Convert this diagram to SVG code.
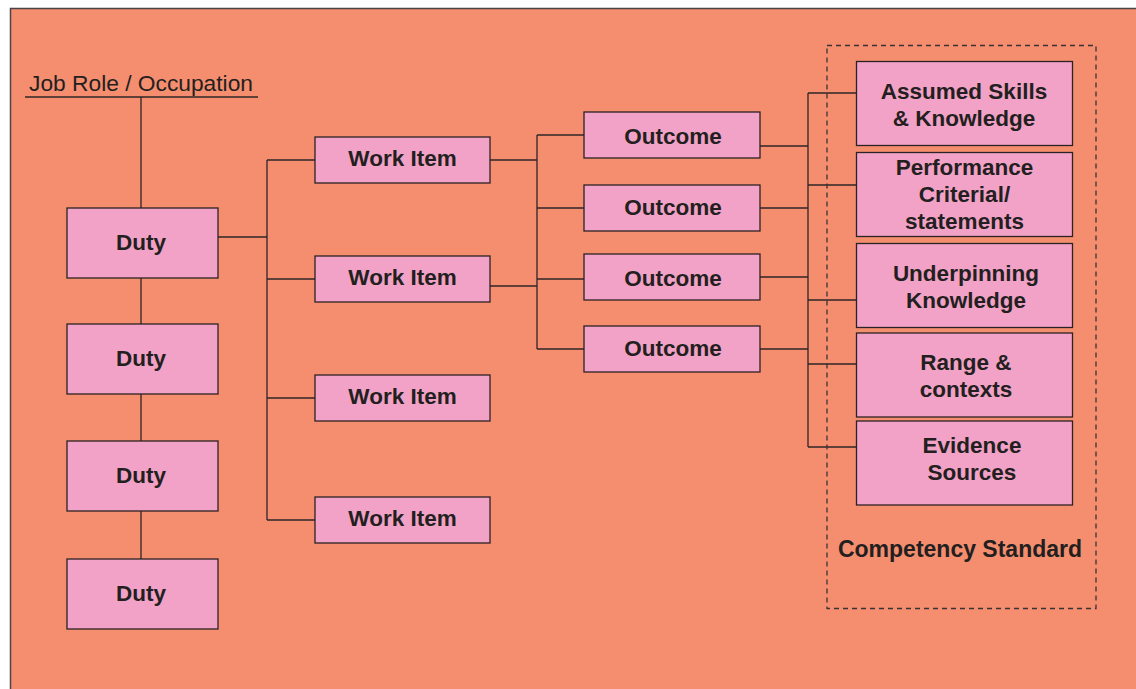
<svg xmlns="http://www.w3.org/2000/svg" width="1136" height="689" viewBox="0 0 1136 689">
  <style>
    .box { fill: #F2A2C6; stroke: #2a2224; stroke-width: 1.3; }
    .lbl { font-family: "Liberation Sans", Arial, sans-serif; font-weight: bold; font-size: 22.5px; fill: #231f20; text-anchor: middle; }
    .conn { fill: none; stroke: #2e2426; stroke-width: 1.3; }
  </style>
  <rect x="0" y="0" width="1136" height="689" fill="#ffffff"/>
  <rect x="10.5" y="8.5" width="1140" height="700" fill="#F58E6F" stroke="#4a4446" stroke-width="1.5"/>

  <!-- Job role heading -->
  <g id="job-role">
    <text x="29" y="91" font-family="Liberation Sans, Arial, sans-serif" font-size="21.5" fill="#231f20" textLength="224" lengthAdjust="spacingAndGlyphs">Job Role / Occupation</text>
    <line x1="25" y1="97" x2="258" y2="97" stroke="#2e2426" stroke-width="1.3"/>
  </g>

  <!-- connectors -->
  <g id="connectors" class="conn">
    <line x1="141" y1="97" x2="141" y2="559"/>
    <line x1="218" y1="237" x2="267" y2="237"/>
    <line x1="267" y1="160" x2="267" y2="520"/>
    <line x1="267" y1="160" x2="315" y2="160"/>
    <line x1="267" y1="279" x2="315" y2="279"/>
    <line x1="267" y1="398" x2="315" y2="398"/>
    <line x1="267" y1="520" x2="315" y2="520"/>
    <line x1="490" y1="160" x2="537" y2="160"/>
    <line x1="490" y1="286" x2="537" y2="286"/>
    <line x1="537" y1="135" x2="537" y2="349"/>
    <line x1="537" y1="135" x2="584" y2="135"/>
    <line x1="537" y1="208" x2="584" y2="208"/>
    <line x1="537" y1="279" x2="584" y2="279"/>
    <line x1="537" y1="349" x2="584" y2="349"/>
    <line x1="760" y1="146" x2="808" y2="146"/>
    <line x1="760" y1="208" x2="808" y2="208"/>
    <line x1="760" y1="277" x2="808" y2="277"/>
    <line x1="760" y1="349" x2="808" y2="349"/>
    <line x1="808" y1="93" x2="808" y2="447"/>
    <line x1="808" y1="93" x2="856" y2="93"/>
    <line x1="808" y1="185" x2="856" y2="185"/>
    <line x1="808" y1="300" x2="856" y2="300"/>
    <line x1="808" y1="364" x2="856" y2="364"/>
    <line x1="808" y1="447" x2="856" y2="447"/>
  </g>

  <!-- Competency standard frame -->
  <g id="competency-standard">
    <rect x="827" y="45.5" width="269" height="563" fill="none" stroke="#3a3234" stroke-width="1.3" stroke-dasharray="5 4"/>
    <text class="lbl" x="960" y="557" style="font-size:23px">Competency Standard</text>
  </g>

  <!-- Duties -->
  <g id="duty-1"><rect class="box" x="67" y="208" width="151" height="70"/><text class="lbl" x="141" y="249.5">Duty</text></g>
  <g id="duty-2"><rect class="box" x="67" y="324" width="151" height="70"/><text class="lbl" x="141" y="365.5">Duty</text></g>
  <g id="duty-3"><rect class="box" x="67" y="441" width="151" height="70"/><text class="lbl" x="141" y="482.5">Duty</text></g>
  <g id="duty-4"><rect class="box" x="67" y="559" width="151" height="70"/><text class="lbl" x="141" y="600.5">Duty</text></g>

  <!-- Work items -->
  <g id="work-item-1"><rect class="box" x="315" y="137" width="175" height="46"/><text class="lbl" x="402.5" y="165.5">Work Item</text></g>
  <g id="work-item-2"><rect class="box" x="315" y="256" width="175" height="46"/><text class="lbl" x="402.5" y="284.5">Work Item</text></g>
  <g id="work-item-3"><rect class="box" x="315" y="375" width="175" height="46"/><text class="lbl" x="402.5" y="403.5">Work Item</text></g>
  <g id="work-item-4"><rect class="box" x="315" y="497" width="175" height="46"/><text class="lbl" x="402.5" y="525.5">Work Item</text></g>

  <!-- Outcomes -->
  <g id="outcome-1"><rect class="box" x="584" y="112" width="176" height="46"/><text class="lbl" x="673" y="144">Outcome</text></g>
  <g id="outcome-2"><rect class="box" x="584" y="185" width="176" height="46"/><text class="lbl" x="673" y="215">Outcome</text></g>
  <g id="outcome-3"><rect class="box" x="584" y="254" width="176" height="46"/><text class="lbl" x="673" y="286">Outcome</text></g>
  <g id="outcome-4"><rect class="box" x="584" y="326" width="176" height="46"/><text class="lbl" x="673" y="356">Outcome</text></g>

  <!-- Competency standard elements -->
  <g id="assumed-skills"><rect class="box" x="856.5" y="61.5" width="216" height="84"/>
    <text class="lbl" x="964" y="99">Assumed Skills</text><text class="lbl" x="964" y="126">&amp; Knowledge</text></g>
  <g id="performance-criteria"><rect class="box" x="856.5" y="152.5" width="216" height="84"/>
    <text class="lbl" x="964.5" y="174.5">Performance</text><text class="lbl" x="964.5" y="201.5">Criterial/</text><text class="lbl" x="964.5" y="228.5">statements</text></g>
  <g id="underpinning-knowledge"><rect class="box" x="856.5" y="243.5" width="216" height="84"/>
    <text class="lbl" x="966" y="281">Underpinning</text><text class="lbl" x="966" y="307.5">Knowledge</text></g>
  <g id="range-contexts"><rect class="box" x="856.5" y="333" width="216" height="84"/>
    <text class="lbl" x="966" y="370">Range &amp;</text><text class="lbl" x="966" y="397">contexts</text></g>
  <g id="evidence-sources"><rect class="box" x="856.5" y="421" width="216" height="84"/>
    <text class="lbl" x="972" y="452.5">Evidence</text><text class="lbl" x="972" y="480">Sources</text></g>
</svg>
